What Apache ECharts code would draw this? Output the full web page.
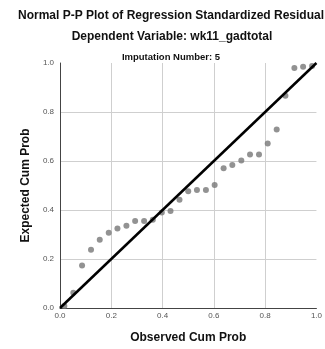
<!DOCTYPE html>
<html>
<head>
<meta charset="utf-8">
<script src="https://cdn.jsdelivr.net/npm/echarts@6/dist/echarts.min.js"></script>
<style>html,body{margin:0;padding:0;background:#fff;}#c{width:325px;height:349px;}</style>
</head>
<body>
<div id="c"></div>
<script>
var observed = [0.017,0.052,0.086,0.121,0.155,0.190,0.224,0.259,0.293,0.328,0.362,0.397,0.431,0.466,0.500,0.534,0.569,0.603,0.638,0.672,0.707,0.741,0.776,0.810,0.845,0.879,0.914,0.948,0.983];
var expected = [0.008,0.062,0.173,0.238,0.279,0.307,0.325,0.336,0.355,0.355,0.360,0.390,0.396,0.442,0.477,0.482,0.482,0.502,0.570,0.584,0.602,0.627,0.627,0.671,0.729,0.866,0.980,0.985,0.988];
var refLine = [[0,0],[1,1]];
var ticks = [0,0.2,0.4,0.6,0.8,1.0];

var pts = observed.map(function(x,i){return [x, expected[i]];});
var chart = echarts.init(document.getElementById('c'), null, {renderer:'canvas'});
var ff = 'Liberation Sans, Arial, sans-serif';
var axisCommon = {
  type:'value', min:0, max:1, interval:0.2,
  axisLine:{show:true, lineStyle:{color:'#444', width:1}},
  axisTick:{show:false},
  axisLabel:{color:'#555', fontSize:8, fontFamily:ff, formatter:function(v){return v.toFixed(1);}},
  splitLine:{show:true, showMinLine:false, showMaxLine:false, lineStyle:{color:'#cfcfcf', width:1}},
  nameLocation:'middle',
  nameTextStyle:{color:'#111', fontSize:12, fontWeight:'bold', fontFamily:ff}
};
chart.setOption({
  animation:false,
  title:[
    {text:'Normal P-P Plot of Regression Standardized Residual', left:166, top:5, textAlign:'center',
     textStyle:{fontSize:12, fontWeight:'bold', color:'#111', fontFamily:ff}},
    {text:'Dependent Variable: wk11_gadtotal', left:167, top:26, textAlign:'center',
     textStyle:{fontSize:12, fontWeight:'bold', color:'#111', fontFamily:ff}},
    {text:'Imputation Number: 5', left:166, top:47, textAlign:'center',
     textStyle:{fontSize:9.5, fontWeight:'bold', color:'#111', fontFamily:ff}}
  ],
  grid:{left:60, right:7, top:63, bottom:40},
  xAxis: Object.assign({}, axisCommon, {name:'Observed Cum Prob', nameGap:24,
    axisLabel:Object.assign({}, axisCommon.axisLabel, {margin:4})}),
  yAxis: Object.assign({}, axisCommon, {name:'Expected Cum Prob', nameGap:26,
    axisLabel:Object.assign({}, axisCommon.axisLabel, {margin:6})}),
  series:[
    {type:'scatter', data:pts, symbol:'circle', symbolSize:6, itemStyle:{color:'#777'}, z:2},
    {type:'line', data:refLine, showSymbol:false, lineStyle:{color:'#000', width:2.5}, z:3}
  ]
});
</script>
</body>
</html>
